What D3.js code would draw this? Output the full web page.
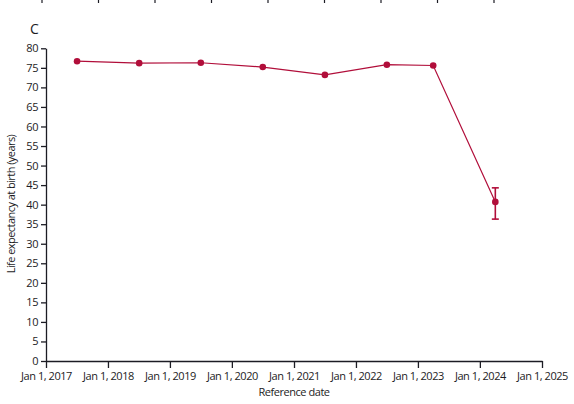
<!DOCTYPE html>
<html>
<head>
<meta charset="utf-8">
<script src="https://cdn.jsdelivr.net/npm/d3@7"></script>
<style>
    body { margin: 0; background: #fff; }
    svg text { font-family: "Open Sans", sans-serif; fill: #1c1c24; }
    .axis path, .axis line { stroke: #1c1c24; }
    .axis text { font-size: 11px; letter-spacing: -0.45px; }
</style>
</head>
<body>
<div id="chart"></div>
<script>
// Data
const refDates = ['2017-07-03', '2018-07-04', '2019-07-02', '2020-07-01', '2021-07-02', '2022-07-02', '2023-04-01', '2024-04-01'];
const lifeExp = [76.7, 76.2, 76.3, 75.2, 73.2, 75.8, 75.6, 40.7];
const errLow = [null, null, null, null, null, null, null, 36.3];
const errHigh = [null, null, null, null, null, null, null, 44.3];
const yTicks = d3.range(0, 81, 5);
const xTickYears = d3.range(2017, 2026);
const prevPanelTicks = d3.range(0, 9);

const W = 574, H = 404;
const margin = { top: 48, right: 32, bottom: 43, left: 46 };
const color = '#b10e3a';

const parse = d3.timeParse('%Y-%m-%d');
const data = refDates.map((d, i) => ({
    date: parse(d),
    value: lifeExp[i],
    lo: errLow[i],
    hi: errHigh[i]
}));

const svg = d3.select('#chart')
    .append('svg')
    .attr('width', W)
    .attr('height', H);

const xScale = d3.scaleTime()
    .domain([new Date(2017, 0, 1), new Date(2025, 0, 1)])
    .range([margin.left, W - margin.right]);

const yScale = d3.scaleLinear()
    .domain([0, 80])
    .range([H - margin.bottom, margin.top + 0.3]);

// Ticks of the panel above (cut off at the top edge)
const prevScale = d3.scaleLinear().domain([0, 8]).range([42, 494]);
svg.append('g')
    .selectAll('line')
    .data(prevPanelTicks)
    .join('line')
    .attr('x1', d => prevScale(d))
    .attr('x2', d => prevScale(d))
    .attr('y1', 0)
    .attr('y2', 3)
    .attr('stroke', '#1c1c24')
    .attr('stroke-width', 1.2);

// Panel letter
svg.append('text')
    .attr('x', 30)
    .attr('y', 34)
    .attr('font-size', 14)
    .attr('font-weight', 500)
    .text('C');

// Axes
const xAxis = svg.append('g')
    .attr('class', 'axis')
    .attr('transform', `translate(0,${H - margin.bottom})`)
    .call(d3.axisBottom(xScale)
        .tickValues(xTickYears.map(y => new Date(y, 0, 1)))
        .tickFormat(d3.timeFormat('Jan 1, %Y'))
        .tickSize(7)
        .tickSizeOuter(0)
        .tickPadding(3));
xAxis.selectAll('path, line').attr('stroke-width', 1.3);
xAxis.selectAll('text').attr('dy', '0.85em');

const yAxis = svg.append('g')
    .attr('class', 'axis')
    .attr('transform', `translate(${margin.left},0)`)
    .call(d3.axisLeft(yScale)
        .tickValues(yTicks)
        .tickSize(5)
        .tickSizeOuter(0)
        .tickPadding(3));
yAxis.selectAll('path, line').attr('stroke-width', 1.3);
yAxis.selectAll('text').attr('font-size', 12).attr('letter-spacing', '-0.3px');

// Axis labels
svg.append('text')
    .attr('x', (margin.left + W - margin.right) / 2)
    .attr('y', 396)
    .attr('text-anchor', 'middle')
    .attr('font-size', 11)
    .attr('letter-spacing', '-0.45px')
    .text('Reference date');

svg.append('text')
    .attr('transform', 'rotate(-90)')
    .attr('x', -204)
    .attr('y', 15)
    .attr('text-anchor', 'middle')
    .attr('font-size', 11)
    .attr('letter-spacing', '-0.55px')
    .text('Life expectancy at birth (years)');

// Line
const line = d3.line()
    .x(d => xScale(d.date))
    .y(d => yScale(d.value));

svg.append('path')
    .datum(data)
    .attr('d', line)
    .attr('fill', 'none')
    .attr('stroke', color)
    .attr('stroke-width', 1.2);

// Error bars
const withErr = data.filter(d => d.lo != null);
const eb = svg.append('g')
    .selectAll('g')
    .data(withErr)
    .join('g')
    .attr('stroke', color)
    .attr('stroke-width', 1.6);
eb.append('line')
    .attr('x1', d => xScale(d.date))
    .attr('x2', d => xScale(d.date))
    .attr('y1', d => yScale(d.lo))
    .attr('y2', d => yScale(d.hi));
eb.append('line')
    .attr('x1', d => xScale(d.date) - 3.5)
    .attr('x2', d => xScale(d.date) + 3.5)
    .attr('y1', d => yScale(d.lo))
    .attr('y2', d => yScale(d.lo));
eb.append('line')
    .attr('x1', d => xScale(d.date) - 3.5)
    .attr('x2', d => xScale(d.date) + 3.5)
    .attr('y1', d => yScale(d.hi))
    .attr('y2', d => yScale(d.hi));

// Dots
svg.append('g')
    .selectAll('circle')
    .data(data)
    .join('circle')
    .attr('cx', d => xScale(d.date))
    .attr('cy', d => yScale(d.value))
    .attr('r', 3.3)
    .attr('fill', color);
</script>
</body>
</html>
